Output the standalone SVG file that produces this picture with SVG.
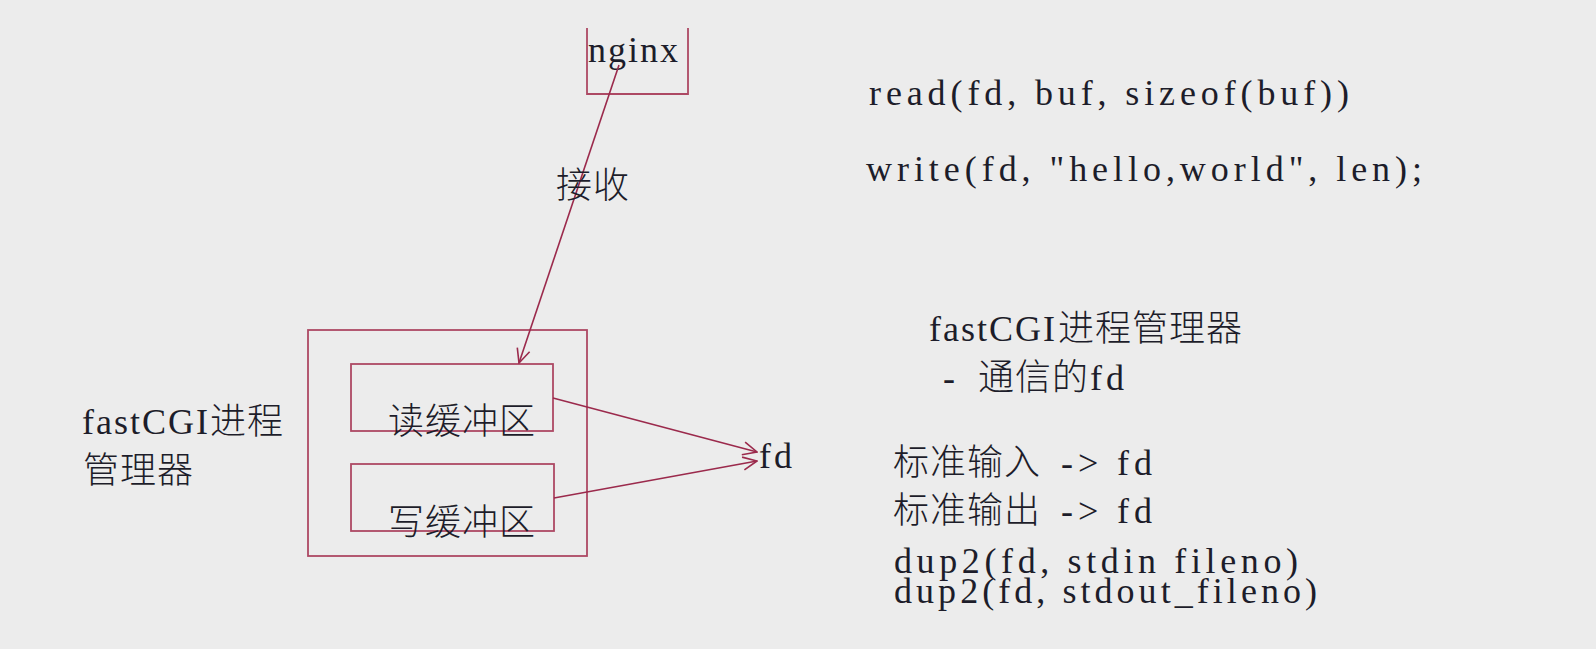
<svg xmlns="http://www.w3.org/2000/svg" width="1596" height="649" viewBox="0 0 1596 649">
  <style>
    .bg { fill: #ececec; }
    .box { fill: none; stroke: #ad4964; stroke-width: 1.8; }
    .conn { fill: none; stroke: #9b2a4c; stroke-width: 1.6; }
    .t { font-family: "Liberation Serif", "Noto Sans CJK SC", serif; font-size: 36px; fill: #1d1d2a; }
    .c { font-family: "Noto Sans CJK SC", sans-serif; font-size: 36px; letter-spacing: 1px; font-weight: 300; fill: #1d1d2a; }
  </style>
  <defs>
    <marker id="arrow" markerUnits="userSpaceOnUse" viewBox="0 0 16 16" refX="15" refY="8" markerWidth="16" markerHeight="16" orient="auto">
      <path d="M1,1.5 L15,8 L1,14.5" fill="none" stroke="#9b2a4c" stroke-width="1.6"/>
    </marker>
  </defs>
  <rect class="bg" x="0" y="0" width="1596" height="649"/>

  <g id="nginx">
    <path class="box" d="M587,28 L587,94 L688,94 L688,28"/>
    <text class="t" x="588" y="62" textLength="90" lengthAdjust="spacing">nginx</text>
  </g>

  <g id="fastcgi-manager">
    <rect class="box" x="308" y="330" width="279" height="226"/>
  </g>

  <g id="read-buffer">
    <rect class="box" x="351" y="364" width="202" height="67"/>
    <text class="c" x="388" y="434">读缓冲区</text>
  </g>

  <g id="write-buffer">
    <rect class="box" x="351" y="464" width="203" height="67"/>
    <text class="c" x="388" y="535">写缓冲区</text>
  </g>

  <g id="fd">
    <text class="t" x="759" y="468" textLength="33" lengthAdjust="spacing">fd</text>
  </g>

  <g id="manager-label">
    <text class="t" x="82" y="434" textLength="126" lengthAdjust="spacing">fastCGI</text>
    <text class="c" x="210" y="434">进程</text>
    <text class="c" x="83" y="483">管理器</text>
  </g>

  <g id="connectors">
    <line class="conn" x1="619" y1="65" x2="519" y2="363" marker-end="url(#arrow)"/>
    <line class="conn" x1="553" y1="398" x2="757" y2="452" marker-end="url(#arrow)"/>
    <line class="conn" x1="554" y1="498" x2="757" y2="461" marker-end="url(#arrow)"/>
    <text class="c" x="556" y="198">接收</text>
  </g>

  <g id="notes">
    <text class="t" x="869" y="105" textLength="480" lengthAdjust="spacing">read(fd, buf, sizeof(buf))</text>
    <text class="t" x="866" y="181" textLength="556" lengthAdjust="spacing">write(fd, "hello,world", len);</text>
    <text class="t" x="929" y="341" textLength="126" lengthAdjust="spacing">fastCGI</text>
    <text class="c" x="1058" y="341">进程管理器</text>
    <text class="t" x="943" y="390">-</text>
    <text class="c" x="978" y="390">通信的</text>
    <text class="t" x="1090" y="390" textLength="34" lengthAdjust="spacing">fd</text>
    <text class="c" x="893" y="475">标准输入</text>
    <text class="t" x="1061" y="475" textLength="91" lengthAdjust="spacing">-&gt; fd</text>
    <text class="c" x="893" y="523">标准输出</text>
    <text class="t" x="1061" y="523" textLength="91" lengthAdjust="spacing">-&gt; fd</text>
    <text class="t" x="894" y="573" textLength="404" lengthAdjust="spacing">dup2(fd, stdin fileno)</text>
    <text class="t" x="894" y="603" textLength="423" lengthAdjust="spacing">dup2(fd, stdout_fileno)</text>
  </g>
</svg>
